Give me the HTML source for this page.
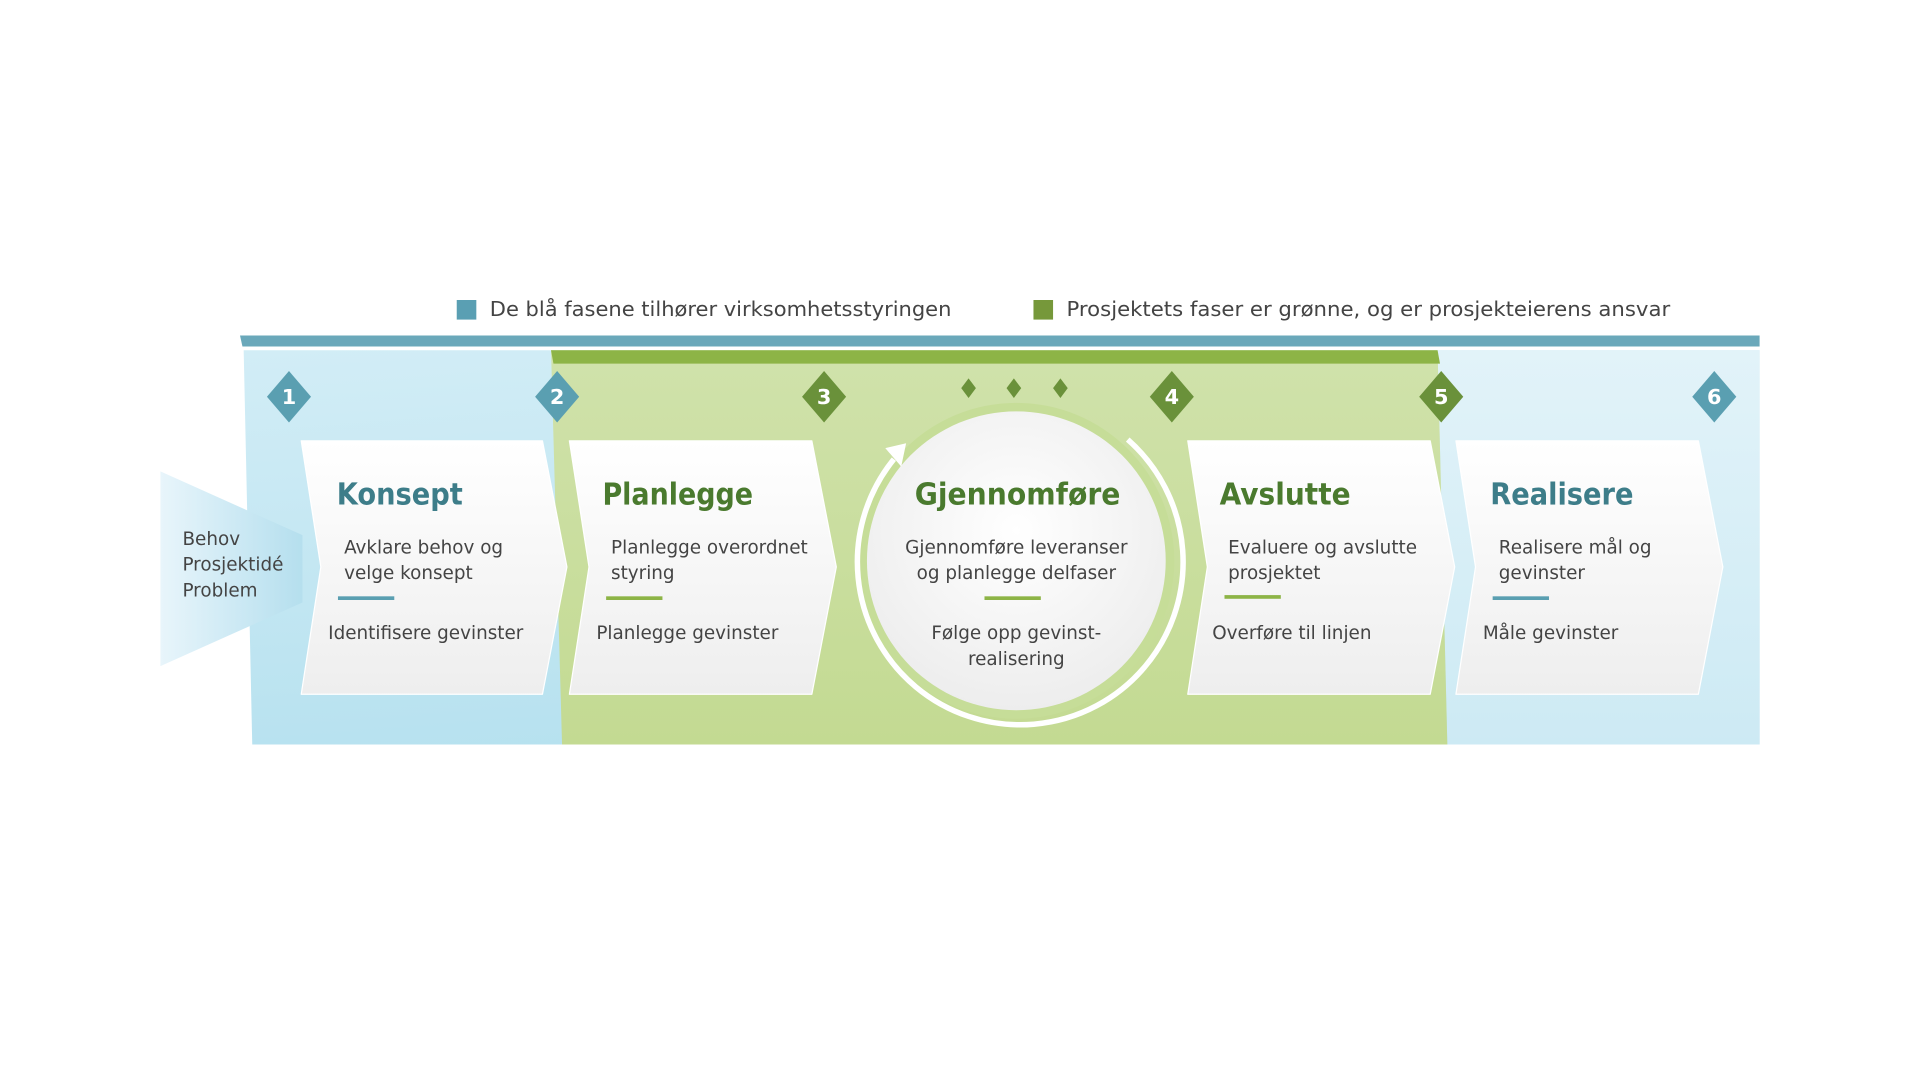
<!DOCTYPE html>
<html><head><meta charset="utf-8"><style>html,body{margin:0;padding:0;background:#fff}svg{display:block}text{font-family:"DejaVu Sans","Liberation Sans",sans-serif}</style></head>
<body>
<svg width="1920" height="1080" viewBox="0 0 1568 882" xmlns="http://www.w3.org/2000/svg">
<defs>
<linearGradient id="bl" x1="0" y1="0" x2="0.3" y2="1"><stop offset="0" stop-color="#d2edf6"/><stop offset="1" stop-color="#b6e1ef"/></linearGradient>
<linearGradient id="gr" x1="0" y1="0" x2="0" y2="1"><stop offset="0" stop-color="#d0e2ab"/><stop offset="1" stop-color="#c3da92"/></linearGradient>
<linearGradient id="bl2" x1="0" y1="0" x2="0" y2="1"><stop offset="0" stop-color="#e2f3f9"/><stop offset="1" stop-color="#cdeaf4"/></linearGradient>
<linearGradient id="wedge" x1="0" y1="0" x2="1" y2="0"><stop offset="0" stop-color="#e8f5fb"/><stop offset="1" stop-color="#b5dfee"/></linearGradient>
<linearGradient id="card" x1="0" y1="0" x2="0" y2="1"><stop offset="0" stop-color="#ffffff"/><stop offset="1" stop-color="#eeeeee"/></linearGradient>
<radialGradient id="circ" cx="0.5" cy="0.4" r="0.6"><stop offset="0" stop-color="#ffffff"/><stop offset="1" stop-color="#ededed"/></radialGradient>
</defs>
<rect x="373" y="245" width="16" height="16" fill="#5a9fb3"/>
<text x="400" y="258" font-size="17" fill="#444" textLength="377" lengthAdjust="spacingAndGlyphs">De blå fasene tilhører virksomhetsstyringen</text>
<rect x="844" y="245" width="16" height="16" fill="#76983a"/>
<text x="871" y="258" font-size="17" fill="#444" textLength="493" lengthAdjust="spacingAndGlyphs">Prosjektets faser er grønne, og er prosjekteierens ansvar</text>
<polygon points="196,274 1437,274 1437,283 198,283" fill="#6aa8ba"/>
<polygon points="199,286 1437,286 1437,608 206,608" fill="url(#bl)"/>
<polygon points="1174,286 1437,286 1437,608 1182,608" fill="url(#bl2)"/>
<polygon points="450,286 1174,286 1182,608 459,608" fill="url(#gr)"/>
<polygon points="450,286 1174,286 1176,297 452,297" fill="#8db446"/>
<polygon points="131,385 247,437 247,492 131,544" fill="url(#wedge)"/>
<text font-size="15" fill="#444"><tspan x="149" y="445">Behov</tspan><tspan x="149" y="466">Prosjektidé</tspan><tspan x="149" y="487">Problem</tspan></text>
<g fill="url(#card)" stroke="#ffffff" stroke-width="1" stroke-linejoin="round">
<polygon points="246,360 443,360 463,463 443,567 246,567 262,463"/>
<polygon points="465,360 663,360 683,463 663,567 465,567 481,463"/>
<polygon points="970,360 1168,360 1188,463 1168,567 970,567 986,463"/>
<polygon points="1189,360 1387,360 1407,463 1387,567 1189,567 1205,463"/>
</g>
<circle cx="830" cy="458" r="129" fill="#c6dd98"/>
<circle cx="830" cy="458" r="122" fill="url(#circ)"/>
<path d="M 730 375 A 133 133 0 1 0 921 359" fill="none" stroke="#fff" stroke-width="4.5"/>
<polygon points="740,362 736,381 723,366" fill="#fff"/>
<g font-size="17" font-weight="bold" fill="#fff" text-anchor="middle">
<polygon points="236,303 254,324 236,345 218,324" fill="#5a9fb1"/><text x="236" y="330">1</text>
<polygon points="455,303 473,324 455,345 437,324" fill="#5a9fb1"/><text x="455" y="330">2</text>
<polygon points="673,303 691,324 673,345 655,324" fill="#6a913a"/><text x="673" y="330">3</text>
<polygon points="957,303 975,324 957,345 939,324" fill="#6a913a"/><text x="957" y="330">4</text>
<polygon points="1177,303 1195,324 1177,345 1159,324" fill="#6a913a"/><text x="1177" y="330">5</text>
<polygon points="1400,303 1418,324 1400,345 1382,324" fill="#5a9fb1"/><text x="1400" y="330">6</text>
</g>
<g fill="#6a913a">
<polygon points="791,309 797,317 791,325 785,317"/>
<polygon points="828,309 834,317 828,325 822,317"/>
<polygon points="866,309 872,317 866,325 860,317"/>
</g>
<g font-size="25" font-weight="bold">
<text x="275" y="412" fill="#3d7d89" textLength="103" lengthAdjust="spacingAndGlyphs">Konsept</text>
<text x="492" y="412" fill="#4a7a2e" textLength="123" lengthAdjust="spacingAndGlyphs">Planlegge</text>
<text x="747" y="412" fill="#4a7a2e" textLength="168" lengthAdjust="spacingAndGlyphs">Gjennomføre</text>
<text x="996" y="412" fill="#4a7a2e" textLength="107" lengthAdjust="spacingAndGlyphs">Avslutte</text>
<text x="1217" y="412" fill="#3d7d89" textLength="117" lengthAdjust="spacingAndGlyphs">Realisere</text>
</g>
<g font-size="15" fill="#444">
<text x="281" y="452">Avklare behov og</text><text x="281" y="473">velge konsept</text>
<text x="268" y="522">Identifisere gevinster</text>
<text x="499" y="452">Planlegge overordnet</text><text x="499" y="473">styring</text>
<text x="487" y="522">Planlegge gevinster</text>
<text x="830" y="452" text-anchor="middle">Gjennomføre leveranser</text><text x="830" y="473" text-anchor="middle">og planlegge delfaser</text>
<text x="830" y="522" text-anchor="middle">Følge opp gevinst-</text><text x="830" y="543" text-anchor="middle">realisering</text>
<text x="1003" y="452">Evaluere og avslutte</text><text x="1003" y="473">prosjektet</text>
<text x="990" y="522">Overføre til linjen</text>
<text x="1224" y="452">Realisere mål og</text><text x="1224" y="473">gevinster</text>
<text x="1211" y="522">Måle gevinster</text>
</g>
<rect x="276" y="487" width="46" height="3" fill="#5a9fb1"/>
<rect x="495" y="487" width="46" height="3" fill="#8db446"/>
<rect x="804" y="487" width="46" height="3" fill="#8db446"/>
<rect x="1000" y="486" width="46" height="3" fill="#8db446"/>
<rect x="1219" y="487" width="46" height="3" fill="#5a9fb1"/>
</svg>
</body></html>
